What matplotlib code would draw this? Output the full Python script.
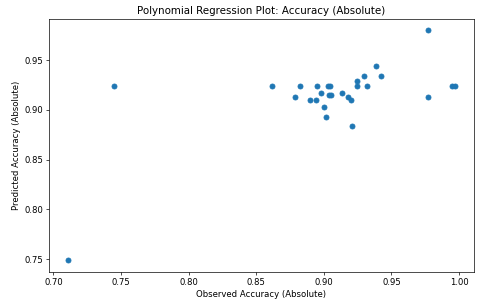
import matplotlib
matplotlib.use("Agg")
import matplotlib.pyplot as plt

observed = [0.711, 0.7445, 0.8615, 0.8787, 0.882, 0.890, 0.894, 0.8947, 0.898,
            0.9003, 0.9016, 0.9028, 0.9045, 0.904, 0.905, 0.9133, 0.918, 0.9198,
            0.9207, 0.9247, 0.9247, 0.9296, 0.9318, 0.9387, 0.942, 0.9773,
            0.9773, 0.9945, 0.9967]
predicted = [0.749, 0.924, 0.924, 0.913, 0.924, 0.910, 0.910, 0.924, 0.917,
             0.903, 0.893, 0.924, 0.924, 0.9146, 0.9146, 0.917, 0.913, 0.910,
             0.8836, 0.9286, 0.924, 0.934, 0.924, 0.944, 0.934, 0.980,
             0.913, 0.924, 0.924]

fig = plt.figure(figsize=(7.75, 4.864), dpi=61.68)
ax = fig.add_axes([0.1025, 0.0943, 0.889, 0.8434])
ax.scatter(observed, predicted, s=34)
ax.set_title("Polynomial Regression Plot: Accuracy (Absolute)")
ax.set_xlabel("Observed Accuracy (Absolute)")
ax.set_ylabel("Predicted Accuracy (Absolute)")
plt.savefig("out.png")
